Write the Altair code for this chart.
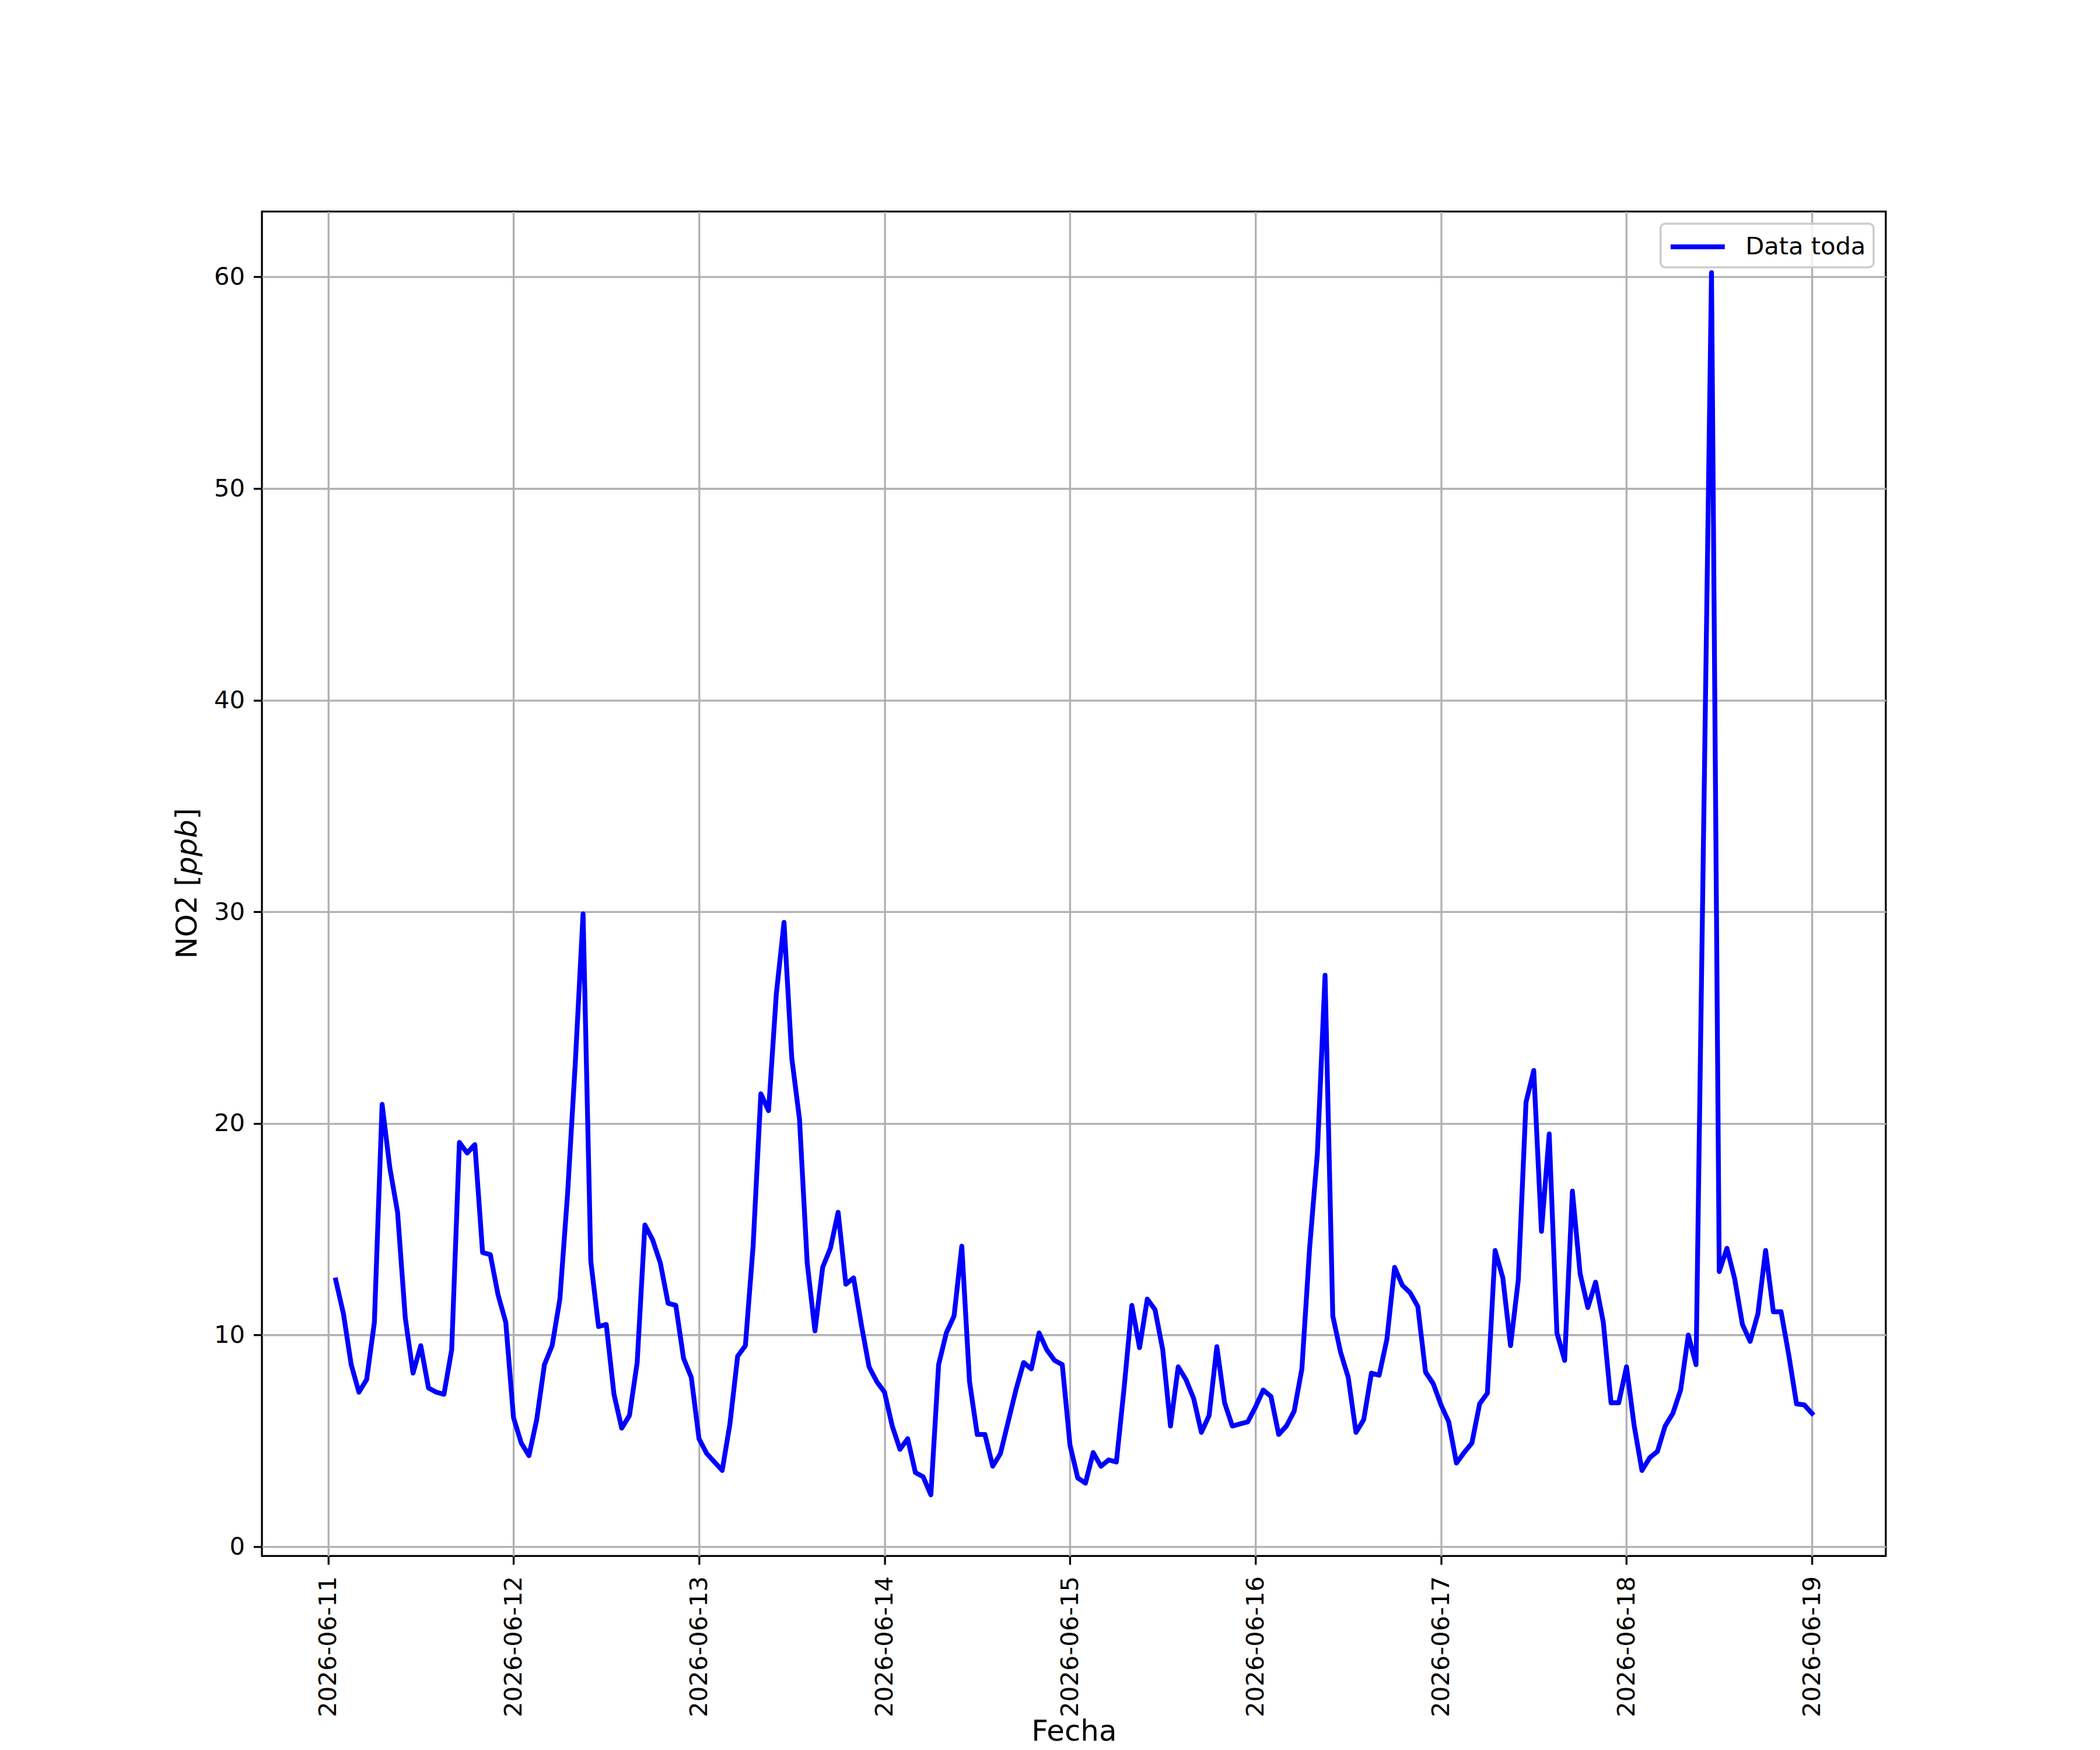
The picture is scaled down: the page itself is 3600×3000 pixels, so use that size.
import altair as alt
import pandas as pd

# Hourly NO2 values [ppb], one list per day (starting hour given)
d11 = [12.6, 11.0, 8.6, 7.3, 7.9, 10.6, 20.9, 17.9, 15.8, 10.8, 8.2, 9.5, 7.5, 7.3, 7.2,
       9.3, 19.1, 18.6, 19.0, 13.9, 13.8, 11.9, 10.6]  # starts 01:00
d12 = [6.1, 4.9, 4.3, 6.0, 8.6, 9.5, 11.7, 16.7, 22.9, 29.9, 13.5, 10.4, 10.5, 7.2, 5.6,
       6.2, 8.7, 15.2, 14.5, 13.4, 11.5, 11.4, 8.9, 8.0]
d13 = [5.1, 4.4, 4.0, 3.6, 5.8, 9.0, 9.5, 14.2, 21.4, 20.6, 26.1, 29.5, 23.1, 20.2, 13.4,
       10.2, 13.2, 14.1, 15.8, 12.4, 12.7, 10.5, 8.5, 7.8]
d14 = [7.3, 5.7, 4.6, 5.1, 3.5, 3.3, 2.45, 8.6, 10.1, 10.9, 14.2, 7.8, 5.3, 5.3, 3.8,
       4.4, 5.9, 7.4, 8.7, 8.4, 10.1, 9.3, 8.8, 8.6]
d15 = [4.8, 3.25, 3.0, 4.45, 3.8, 4.1, 4.0, 7.5, 11.4, 9.4, 11.7, 11.2, 9.3, 5.7, 8.5,
       7.9, 7.0, 5.4, 6.2, 9.45, 6.8, 5.7, 5.8, 5.9]
d16 = [6.6, 7.4, 7.1, 5.3, 5.7, 6.4, 8.4, 14.1, 18.55, 27.0, 10.9, 9.2, 8.0, 5.4, 6.0,
       8.2, 8.1, 9.8, 13.2, 12.35, 12.0, 11.35, 8.25, 7.7]
d17 = [6.7, 5.9, 3.95, 4.45, 4.9, 6.75, 7.25, 14.0, 12.7, 9.5, 12.6, 21.0, 22.5, 14.9, 19.5,
       10.1, 8.8, 16.8, 12.9, 11.3, 12.5, 10.6, 6.8, 6.8]
d18 = [8.5, 5.7, 3.6, 4.2, 4.5, 5.7, 6.3, 7.4, 10.0, 8.6, None, 60.2, 13.0, 14.1, 12.65,
       10.5, 9.7, 11.0, 14.0, 11.1, 11.1, 9.05, 6.75, 6.7]
d19 = [6.3]

days = [(11, 1, d11), (12, 0, d12), (13, 0, d13), (14, 0, d14), (15, 0, d15),
        (16, 0, d16), (17, 0, d17), (18, 0, d18), (19, 0, d19)]

series_name = "Data toda"
tick_days = [11, 12, 13, 14, 15, 16, 17, 18, 19]
y_ticks = [0, 10, 20, 30, 40, 50, 60]

rows = []
for day, h0, vals in days:
    for i, v in enumerate(vals):
        if v is None:
            continue
        h = h0 + i
        rows.append({"fecha": f"2026-06-{day:02d}T{h:02d}:00:00", "no2": v, "serie": series_name})
df = pd.DataFrame(rows)

FONT = "DejaVu Sans"
LW = 8.3

x_enc = alt.X(
    "fecha:T",
    scale=alt.Scale(
        domain=[alt.DateTime(year=2026, month=6, date=10, hours=15, minutes=27),
                alt.DateTime(year=2026, month=6, date=19, hours=9, minutes=33)],
        nice=False,
    ),
    axis=alt.Axis(
        values=[alt.DateTime(year=2026, month=6, date=d) for d in tick_days],
        format="%Y-%m-%d",
        labelAngle=270,
        labelAlign="right",
        labelBaseline="middle",
        labelOverlap=False,
        labelFlush=False,
        labelLimit=2000,
        labelPadding=19.5,
        title="Fecha",
        titleBaseline="alphabetic",
        titleY=317,
    ),
)

y_enc = alt.Y(
    "no2:Q",
    scale=alt.Scale(domain=[-0.44, 63.09], nice=False, zero=False),
    axis=alt.Axis(values=y_ticks, title=None, labelOverlap=False, labelFlush=False,
                  labelPadding=15),
)

line = alt.Chart(df).mark_line(strokeWidth=LW, strokeJoin="round", strokeCap="square").encode(
    x=x_enc,
    y=y_enc,
    color=alt.Color(
        "serie:N",
        scale=alt.Scale(domain=[series_name], range=["#0000ff"]),
        legend=alt.Legend(
            title=None,
            orient="top-right",
            offset=20.8,
            symbolType="M-2.08,0H2.08",
            symbolSize=2000,
            symbolStrokeWidth=LW,
            symbolOffset=24,
            labelFont=FONT,
            labelFontSize=41.7,
            labelColor="black",
            labelOffset=55,
            labelLimit=2000,
            padding=12.8,
            strokeColor="#cccccc",
            fillColor="rgba(255,255,255,0.8)",
            cornerRadius=8,
        ),
    ),
)

one = pd.DataFrame({"k": [0]})
ytitle_a = alt.Chart(one).mark_text(
    text="NO2 [", angle=270, align="left", baseline="middle", font=FONT, fontSize=50, color="black"
).encode(x=alt.value(-127), y=alt.value(1284))
ytitle_b = alt.Chart(one).mark_text(
    text="ppb", angle=270, align="left", baseline="middle", font=FONT, fontSize=50,
    fontStyle="italic", color="black"
).encode(x=alt.value(-127), y=alt.value(1140))
ytitle_c = alt.Chart(one).mark_text(
    text="]", angle=270, align="left", baseline="middle", font=FONT, fontSize=50, color="black"
).encode(x=alt.value(-127), y=alt.value(1044.5))

chart = alt.layer(line, ytitle_a, ytitle_b, ytitle_c).properties(
    width=2790,
    height=2310,
    autosize=alt.AutoSizeParams(type="none"),
    padding={"left": 442, "top": 352, "right": 360, "bottom": 330},
    background="white",
).configure_axis(
    labelFont=FONT,
    labelFontSize=41.7,
    labelColor="black",
    tickColor="black",
    tickSize=14.6,
    tickWidth=3.3,
    domain=False,
    gridColor="#b0b0b0",
    gridWidth=3.3,
    titleFont=FONT,
    titleFontSize=50,
    titleFontWeight="normal",
    titleColor="black",
).configure_view(
    stroke="black",
    strokeWidth=3.3,
).configure_legend(
    strokeWidth=3.5,
)

chart.save("out.html", embed_options={"renderer": "svg", "actions": False})
